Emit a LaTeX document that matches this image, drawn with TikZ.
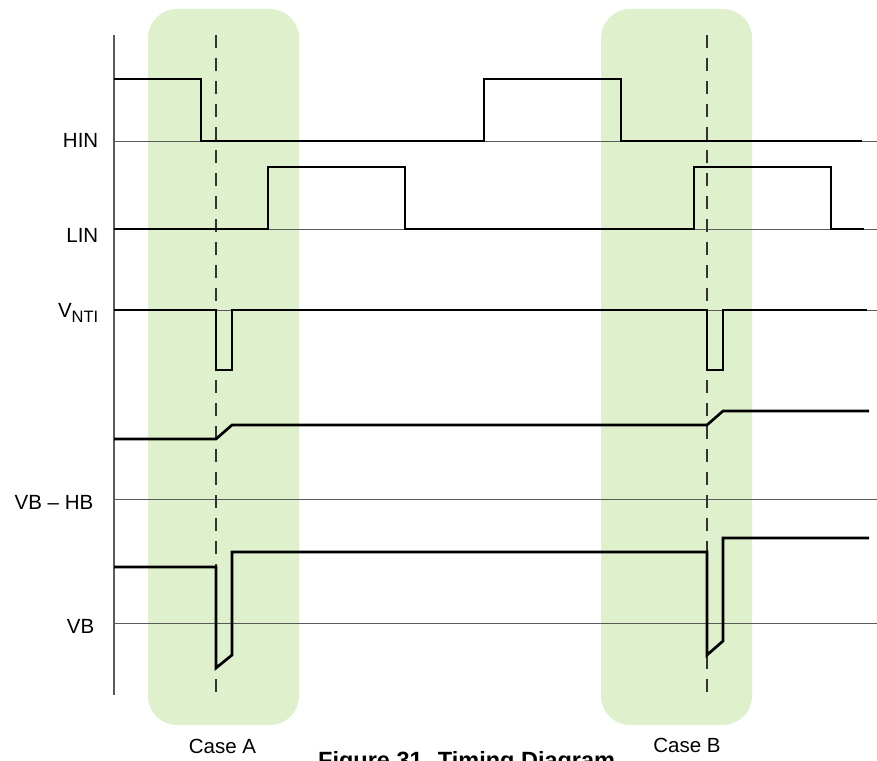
\documentclass[tikz,border=0pt]{standalone}
\usepackage{fontspec}
\setmainfont{Liberation Sans}
\definecolor{casegreen}{HTML}{DFF0CD}
\definecolor{refgray}{HTML}{5A5A5A}
\begin{document}
\begin{tikzpicture}[x=1pt,y=-1pt,
  sig/.style={line width=2.7pt, line join=miter, draw=black},
  refline/.style={line width=1pt, draw=refgray},
  axisline/.style={line width=1.5pt, draw=refgray},
  guide/.style={line width=1.3pt, draw=black!80, dash pattern=on 13pt off 10pt},
  casebox/.style={fill=casegreen, rounded corners=29pt},
  lbl/.style={anchor=base east, inner sep=0pt, font=\fontsize{20.5}{24}\selectfont},
  caselbl/.style={anchor=base, inner sep=0pt, font=\fontsize{20.5}{24}\selectfont},
]
\useasboundingbox (0,0) rectangle (877,760);
% case boxes
\fill[casebox] (148,9) rectangle (299,725);
\fill[casebox] (601,9) rectangle (752,725);
% reference lines
\coordinate (hinA) at (114,141); \coordinate (hinB) at (877,141);
\coordinate (linA) at (114,229); \coordinate (linB) at (877,229);
\coordinate (ntiA) at (114,310); \coordinate (ntiB) at (877,310);
\coordinate (vbhbA) at (114,499); \coordinate (vbhbB) at (877,499);
\coordinate (vbA) at (114,623); \coordinate (vbB) at (877,623);
\draw[refline] (hinA) -- (hinB);
\draw[refline] (linA) -- (linB);
\draw[refline] (ntiA) -- (ntiB);
\draw[refline] (vbhbA) -- (vbhbB);
\draw[refline] (vbA) -- (vbB);
% axis
\coordinate (axT) at (114,35); \coordinate (axB) at (114,695);
\draw[axisline] (axT) -- (axB);
% guides
\coordinate (gAT) at (216,35); \coordinate (gAB) at (216,692);
\coordinate (gBT) at (707,35); \coordinate (gBB) at (707,692);
\draw[guide] (gAT) -- (gAB);
\draw[guide] (gBT) -- (gBB);
% signals
\draw[sig] (114,79) -- (201,79) -- (201,141) -- (484,141) -- (484,79) -- (621,79) -- (621,141) -- (862,141);
\draw[sig] (114,229) -- (268,229) -- (268,167) -- (405,167) -- (405,229) -- (694,229) -- (694,167) -- (831,167) -- (831,229) -- (864,229);
\draw[sig] (114,310) -- (216,310) -- (216,370) -- (232,370) -- (232,310) -- (707,310) -- (707,370) -- (723,370) -- (723,310) -- (867,310);
\draw[sig] (114,439) -- (216,439) -- (232,425) -- (707,425) -- (723,411) -- (869,411);
\draw[sig] (114,567) -- (216,567) -- (216,668) -- (232,655) -- (232,552) -- (707,552) -- (707,655) -- (723,641) -- (723,538) -- (869,538);
% labels
\node[lbl] (hin) at (98.5,147) {HIN};
\node[lbl] (lin) at (98.5,242) {LIN};
\node[lbl] (nti) at (98.5,317) {V\raisebox{-5pt}{\fontsize{16.5}{19}\selectfont NTI}};
\node[lbl] (vbhb) at (93.5,509) {VB – HB};
\node[lbl] (vb) at (94.5,633) {VB};
\node[caselbl] (casea) at (222.5,753) {Case A};
\node[caselbl] (caseb) at (687,752) {Case B};
\node[anchor=base west, inner sep=0pt, font=\bfseries\fontsize{23.5}{28}\selectfont] (cap) at (318,768) {Figure 31. Timing Diagram};
\end{tikzpicture}
\end{document}
